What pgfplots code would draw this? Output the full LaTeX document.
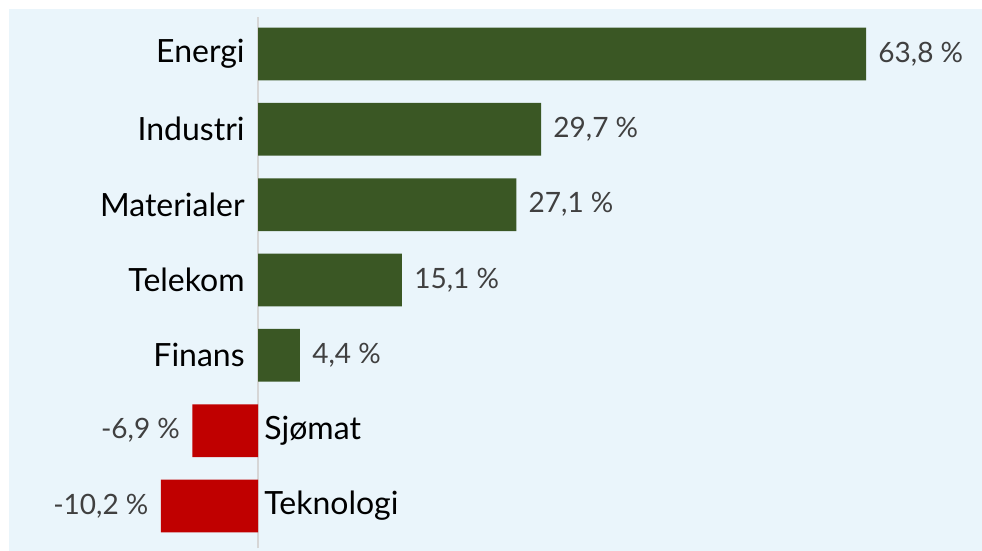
\documentclass[border=0pt]{standalone}
\usepackage{pgfplots}
\pgfplotsset{compat=1.18}
\usepackage{fontspec}
\setmainfont{Lato}
\definecolor{bgblue}{HTML}{EAF5FB}
\definecolor{barGreen}{HTML}{3A5724}
\definecolor{barRed}{HTML}{C00000}
\definecolor{valGray}{HTML}{404040}
\definecolor{zeroLine}{HTML}{D6D6D6}

\begin{document}
\begin{tikzpicture}
\begin{axis}[
  scale only axis,
  width=486.5pt, height=271pt,
  xmin=-26.13, xmax=75.97,
  ymin=-0.597, ymax=6.597,
  hide axis,
  clip=false,
  xbar, bar width=0.7,
  bar shift=0pt,
  /pgf/number format/assume math mode=true,
  nodes near coords={\pgfmathprintnumber[fixed,precision=1,zerofill,use comma,assume math mode=true]{\pgfplotspointmeta} \%},
  nodes near coords style={font=\fontsize{14}{16}\selectfont, text=valGray, inner sep=0pt},
  point meta=x,
]
  % panel and outer margin
  \fill[bgblue] (rel axis cs:0,0) rectangle (rel axis cs:1,1);
  \path (rel axis cs:0,1) ++(-4.5pt,4.5pt);
  \draw[zeroLine, line width=0.6pt] (axis cs:0,-0.558) -- (axis cs:0,6.49);

  \addplot[fill=barGreen, draw=none,
    every node near coord/.append style={anchor=west, xshift=6pt}]
    coordinates {(63.8,6) (29.7,5) (27.1,4) (15.1,3) (4.4,2)};
  \addplot[fill=barRed, draw=none,
    every node near coord/.append style={anchor=east, xshift=-6pt}]
    coordinates {(-6.9,1) (-10.2,0)};

  \begin{scope}[every node/.style={font=\fontsize{16}{19}\selectfont, text=black, inner sep=0pt}]
    \node[anchor=east] at ([xshift=-6.5pt]axis cs:0,6) {Energi};
    \node[anchor=east] at ([xshift=-6.5pt]axis cs:0,5) {Industri};
    \node[anchor=east] at ([xshift=-6.5pt]axis cs:0,4) {Materialer};
    \node[anchor=east] at ([xshift=-6.5pt]axis cs:0,3) {Telekom};
    \node[anchor=east] at ([xshift=-6.5pt]axis cs:0,2) {Finans};
    \node[anchor=west] at ([xshift=3pt]axis cs:0,1) {Sjømat};
    \node[anchor=west] at ([xshift=3pt]axis cs:0,0) {Teknologi};
  \end{scope}
\end{axis}
\end{tikzpicture}
\end{document}
